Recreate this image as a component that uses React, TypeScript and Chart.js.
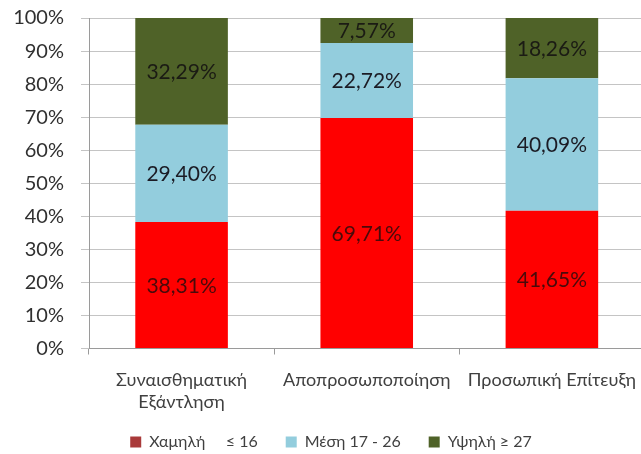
import React, { useEffect, useRef } from "react";
import { Chart, registerables } from "chart.js";

Chart.register(...registerables);

const categories: (string | string[])[] = [
  ["Συναισθηματική", "Εξάντληση"],
  "Αποπροσωποποίηση",
  "Προσωπική Επίτευξη",
];
const seriesNames = ["Χαμηλή     ≤ 16", "Μέση 17 - 26", "Υψηλή ≥ 27"];
const lowValues = [38.31, 69.71, 41.65];
const midValues = [29.4, 22.72, 40.09];
const highValues = [32.29, 7.57, 18.26];
const yTicks = [0, 10, 20, 30, 40, 50, 60, 70, 80, 90, 100];

const FONT = 'Lato, "Noto Sans", sans-serif';
const barColors = ["#FF0000", "#93CDDD", "#4F6228"];
const legendColors = ["#A93A3A", "#93CDDD", "#4F6228"];
const labelColors = ["#4a0a0a", "#1b1b24", "#1b1b14"];

const fmt = (v: number) => v.toFixed(2).replace(".", ",") + "%";

const valueLabels = {
  id: "valueLabels",
  afterLayout(chart: any) {
    const x = chart.scales.x;
    if (x) x.bottom = chart.height;
  },
  afterDatasetsDraw(chart: any) {
    const ctx = chart.ctx;
    ctx.save();
    ctx.font = `21px ${FONT}`;
    ctx.textAlign = "center";
    ctx.textBaseline = "middle";
    chart.data.datasets.forEach((ds: any, di: number) => {
      const meta = chart.getDatasetMeta(di);
      meta.data.forEach((el: any, i: number) => {
        const v = ds.data[i];
        ctx.fillStyle = labelColors[di];
        ctx.fillText(fmt(v), el.x, (el.y + el.base) / 2 + 1);
      });
    });
    ctx.restore();
  },
};

export default function App() {
  const ref = useRef<HTMLCanvasElement | null>(null);
  useEffect(() => {
    document.body.style.overflow = "hidden";
    const chart = new Chart(ref.current!, {
      type: "bar",
      data: {
        labels: categories,
        datasets: [lowValues, midValues, highValues].map((d, i) => ({
          label: seriesNames[i],
          data: d,
          backgroundColor: barColors[i],
          borderWidth: 0,
          categoryPercentage: 1,
          barPercentage: 0.5,
        })),
      },
      options: {
        animation: false,
        responsive: false,
        maintainAspectRatio: false,
        layout: { padding: { left: 12, top: 0, right: 0, bottom: 0 } },
        plugins: {
          tooltip: { enabled: false },
          legend: {
            position: "bottom",
            labels: {
              font: { family: FONT, size: 16 },
              color: "#404040",
              boxWidth: 11,
              boxHeight: 11,
              padding: 28,
              generateLabels: (c: any) =>
                c.data.datasets.map((ds: any, i: number) => ({
                  text: ds.label,
                  fillStyle: legendColors[i],
                  strokeStyle: legendColors[i],
                  lineWidth: 0,
                  datasetIndex: i,
                  hidden: false,
                  fontColor: "#404040",
                })),
            },
          },
        },
        scales: {
          x: {
            stacked: true,
            afterFit: (s: any) => {
              s.height = 57.5;
            },
            grid: {
              drawOnChartArea: false,
              drawTicks: true,
              tickLength: 6,
              color: "#9a9a9a",
            },
            border: { color: "#9a9a9a" },
            ticks: {
              font: { family: FONT, size: 18, lineHeight: 1.25 },
              color: "#404040",
              padding: 14,
              maxRotation: 0,
            },
          },
          y: {
            stacked: true,
            min: 0,
            max: 100,
            afterFit: (s: any) => {
              s.width = 77;
            },
            afterBuildTicks: (s: any) => {
              s.ticks = yTicks.map((v) => ({ value: v }));
            },
            grid: { color: "#c4c4c4", tickLength: 8 },
            border: { color: "#9a9a9a" },
            ticks: {
              font: { family: FONT, size: 20 },
              color: "#303030",
              padding: 17,
              callback: (v: any) => v + "%",
            },
          },
        },
      },
      plugins: [valueLabels],
    });
    return () => chart.destroy();
  }, []);
  return (
    <div style={{ position: "fixed", left: 0, top: -11, width: 650, height: 471 }}>
      <canvas ref={ref} width={650} height={471} style={{ display: "block" }} />
    </div>
  );
}
